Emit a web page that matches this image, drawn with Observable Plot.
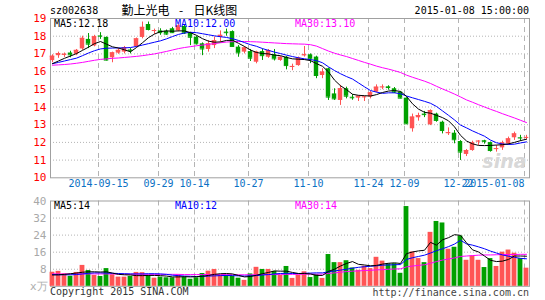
<!DOCTYPE html>
<html><head><meta charset="utf-8">
<script src="https://cdn.jsdelivr.net/npm/d3@7"></script>
<script src="https://cdn.jsdelivr.net/npm/@observablehq/plot@0.6"></script>
<style>
html,body{margin:0;padding:0;background:#fff;}
#wrap{position:relative;width:545px;height:300px;overflow:hidden;background:#fff;}
.t{position:absolute;white-space:pre;font-family:"DejaVu Sans Mono",monospace;font-size:10px;line-height:10px;}
#wrap svg{position:absolute;left:0;}
</style></head><body><div id="wrap"></div>
<script>
// ---------- data ----------
const stockCode = "sz002638";
const stockName = "勤上光电";
const chartKind = "日K线图";
const stamp = "2015-01-08 15:00:00";
const maLabels = ["MA5:12.18", "MA10:12.00", "MA30:13.10"];
const volMaLabels = ["MA5:14", "MA10:12", "MA30:14"];
const volUnit = "x万";
const copyright = "Copyright 2015 SINA.COM";
const siteUrl = "http://finance.sina.com.cn";

const dateIdx = [8, 18, 24, 33, 43, 53, 59, 68, 79];
const dateLabels = ["2014-09-15","09-29","10-14","10-27","11-10","11-24","12-09","12-22","2015-01-08"];
const priceTicks = [10,11,12,13,14,15,16,17,18,19];
const volTicks = [8,16,24,32,40];

const open = [16.62,16.9,16.92,17.05,16.98,17.28,17.82,17.45,18.02,17.93,
  16.78,17.04,17.1,17.22,17.4,17.93,18.66,18.3,18.3,18.28,
  18.42,18.3,18.55,18.18,17.94,17.57,17.25,17.47,17.93,18.23,
  18.26,17.38,17.1,17.13,16.53,17.13,16.81,16.95,16.63,16.81,
  16.25,16.34,16.9,16.95,16.82,15.78,16.16,14.74,14.37,15.03,
  14.55,14.5,14.55,14.56,14.84,15.11,15.14,15.03,14.84,14.5,
  12.77,13.39,13.6,12.99,13.6,13.14,12.5,12.52,12.05,11.32,
  11.54,12.05,12.1,11.99,11.62,11.69,11.92,12.26,12.27,12.26];
const high = [16.95,17.1,17.05,17.15,17.25,18.0,18.15,18.05,18.2,17.96,
  17.1,17.3,17.42,17.3,17.9,18.8,18.8,18.4,18.42,18.35,
  18.5,18.65,18.62,18.22,18.0,17.62,17.75,17.95,18.3,18.4,
  18.3,17.47,17.4,17.25,17.15,17.28,17.25,17.25,16.85,16.85,
  16.42,16.82,17.42,17.0,16.87,16.16,16.2,15.03,15.22,15.12,
  14.7,14.62,14.6,14.88,15.25,15.25,15.2,15.1,14.86,14.52,
  13.6,13.65,13.75,13.84,13.65,13.2,12.82,12.67,12.1,11.6,
  12.07,12.1,12.12,12.02,11.82,12.07,12.3,12.58,12.4,12.4];
const low = [16.5,16.75,16.8,16.78,16.9,17.2,17.3,17.4,17.82,16.6,
  16.5,16.98,17.0,17.0,17.35,17.85,18.3,18.1,18.05,18.05,
  18.15,18.25,18.1,17.47,17.5,16.9,17.1,17.3,17.65,18.0,
  17.4,16.81,17.0,16.57,16.44,16.63,16.75,16.6,16.58,16.1,
  16.05,16.3,16.82,16.45,15.6,15.6,14.37,14.37,14.09,14.46,
  14.38,14.31,14.31,14.46,14.8,14.98,14.95,14.76,14.46,13.02,
  12.58,13.2,13.4,12.95,13.14,12.48,12.39,11.92,10.98,11.2,
  11.5,11.82,11.9,11.45,11.45,11.55,11.83,12.11,12.05,12.14];
const close = [16.87,17.02,16.98,16.95,17.2,17.88,17.55,17.97,18.0,16.65,
  17.06,17.2,17.36,17.18,17.85,18.5,18.38,18.32,18.2,18.12,
  18.2,18.58,18.18,17.94,17.57,17.28,17.57,17.75,18.05,18.2,
  17.42,17.06,17.34,16.76,17.1,16.9,17.19,16.72,16.81,16.34,
  16.29,16.76,16.95,16.72,15.78,15.97,14.56,14.46,15.03,14.61,
  14.52,14.61,14.57,14.8,15.12,15.13,15.1,14.84,14.5,13.05,
  13.43,13.52,13.57,13.8,13.24,12.67,12.55,12.15,11.45,11.54,
  11.97,12.07,12.06,11.54,11.65,11.97,12.2,12.48,12.25,12.28];
const ma5 = [16.45,16.6,16.75,16.88,17.02,17.2,17.38,17.58,17.7,17.55,
  17.4,17.33,17.23,17.12,17.36,17.63,17.92,18.12,18.26,18.3,
  18.28,18.3,18.3,18.2,18.05,17.86,17.72,17.66,17.68,17.76,
  17.77,17.6,17.42,17.22,17.08,17.02,17.0,16.93,16.9,16.8,
  16.72,16.7,16.68,16.62,16.45,16.3,15.98,15.52,15.2,14.98,
  14.72,14.66,14.64,14.62,14.7,14.82,14.9,14.93,14.88,14.6,
  14.18,13.88,13.7,13.65,13.53,13.4,13.22,12.88,12.4,12.08,
  11.92,11.83,11.82,11.83,11.85,11.87,11.92,12.0,12.1,12.18];
const ma10 = [16.45,16.52,16.6,16.68,16.76,16.9,17.05,17.18,17.28,17.32,
  17.33,17.34,17.34,17.36,17.42,17.5,17.58,17.66,17.74,17.85,
  17.98,18.1,18.18,18.22,18.2,18.14,18.08,18.02,17.97,17.93,
  17.86,17.76,17.64,17.52,17.43,17.3,17.2,17.1,17.02,16.93,
  16.85,16.78,16.72,16.68,16.62,16.5,16.27,16.06,15.88,15.72,
  15.58,15.36,15.14,14.93,14.84,14.77,14.8,14.8,14.75,14.62,
  14.52,14.42,14.32,14.21,14.03,13.78,13.53,13.27,12.98,12.82,
  12.65,12.5,12.35,12.13,11.98,11.91,11.88,11.9,11.97,12.03];
const ma30 = [16.36,16.38,16.4,16.43,16.47,16.52,16.58,16.64,16.69,16.72,
  16.75,16.77,16.8,16.83,16.86,16.9,16.95,17.0,17.07,17.14,
  17.22,17.3,17.36,17.41,17.46,17.5,17.54,17.58,17.63,17.67,
  17.69,17.7,17.7,17.69,17.68,17.66,17.64,17.62,17.6,17.58,
  17.57,17.56,17.55,17.52,17.44,17.3,17.16,17.04,16.94,16.85,
  16.74,16.63,16.52,16.42,16.31,16.22,16.14,16.05,15.95,15.8,
  15.68,15.57,15.46,15.33,15.17,15.02,14.88,14.73,14.57,14.4,
  14.27,14.13,14.0,13.87,13.75,13.62,13.5,13.38,13.25,13.12];
const volume = [6.6,7.0,5.8,4.7,6.5,9.8,7.4,5.1,4.6,8.3,
  5.4,4.3,4.3,4.6,6.5,6.4,5.0,3.8,4.3,4.0,
  4.0,5.4,4.3,3.3,4.0,6.0,7.1,7.9,5.1,5.1,
  4.7,3.8,2.8,5.8,8.9,7.9,7.9,7.0,5.1,9.3,
  3.7,5.2,6.8,4.1,5.5,3.7,14.9,11.1,11.1,12.0,
  8.6,7.5,9.4,8.3,13.6,11.8,10.5,10.6,6.1,37.4,
  16.1,13.0,11.1,25.3,30.4,29.7,17.4,18.3,23.6,12.2,
  14.2,12.2,8.8,13.0,9.3,16.0,17.0,15.5,13.0,8.5];
const volMa5 = [5.3,5.4,5.6,5.9,6.2,6.6,6.8,6.8,6.7,6.8,
  6.2,5.6,5.4,5.3,5.0,5.0,5.1,5.1,5.0,4.8,
  4.4,4.4,4.5,4.4,4.5,4.7,5.1,5.6,5.9,6.0,
  5.8,5.1,4.4,4.6,5.2,5.9,6.5,7.2,7.1,7.1,
  6.5,6.0,6.0,5.8,5.1,5.1,7.0,8.0,9.5,10.7,
  11.6,10.3,10.0,9.6,9.8,10.4,10.8,11.0,10.7,15.3,
  16.1,16.6,16.9,20.6,19.3,21.8,22.8,24.2,23.9,20.4,
  17.1,16.1,14.2,12.2,11.6,11.8,12.6,14.2,14.2,14.1];
const volMa10 = [5.5,5.4,5.4,5.4,5.5,5.8,6.1,6.3,6.3,6.2,
  6.1,6.0,5.9,5.8,5.8,5.8,5.9,5.9,5.8,5.6,
  5.2,5.0,4.8,4.7,4.6,4.7,4.8,4.9,5.0,5.1,
  5.0,4.9,4.8,4.9,5.0,5.3,5.5,5.8,6.0,6.1,
  6.0,6.0,6.1,6.2,6.3,6.3,6.8,7.2,7.6,8.0,
  8.5,8.9,9.2,9.4,9.6,9.9,10.0,10.1,10.2,12.6,
  13.4,14.0,14.6,15.6,16.7,17.6,18.6,19.8,21.6,19.9,
  19.3,18.5,17.6,16.5,15.6,14.7,14.1,13.6,13.1,12.9];
const volMa30 = [5.8,5.8,5.8,5.8,5.8,5.8,5.8,5.8,5.8,5.8,
  5.8,5.7,5.7,5.7,5.7,5.7,5.6,5.6,5.6,5.6,
  5.6,5.6,5.5,5.5,5.5,5.5,5.5,5.5,5.5,5.5,
  5.4,5.4,5.4,5.4,5.4,5.5,5.5,5.5,5.6,5.6,
  5.6,5.6,5.7,5.7,5.7,5.7,6.0,6.3,6.6,6.9,
  7.1,7.2,7.4,7.5,7.7,7.8,8.0,8.1,8.2,9.1,
  9.5,9.8,10.1,10.8,11.6,12.3,12.8,13.3,14.0,14.2,
  14.4,14.6,14.7,14.7,14.8,14.9,14.9,14.9,15.0,15.0];

// ---------- build ----------
const RED = "#ff5454", GREEN = "#00a000", GRID = "#b4b4b4", FRAME = "#a0a0a0";
const candles = close.map((c, i) => ({i, o: open[i], h: high[i], l: low[i], c, v: volume[i], up: c >= open[i]}));
const ups = candles.filter(d => d.up), downs = candles.filter(d => !d.up);
const xDom = [-1/3, 79.5];
const line = (arr, color) => Plot.line(arr, {x: (d, i) => i, y: d => d, stroke: color, strokeWidth: 1});
const W = 0.37;

const mainChart = Plot.plot({
  width: 545, height: 195,
  marginLeft: 50, marginRight: 16, marginTop: 18, marginBottom: 17.7,
  x: {domain: xDom, axis: null},
  y: {domain: [10, 19], axis: null},
  style: {fontFamily: "DejaVu Sans Mono", fontSize: "10px", background: "transparent"},
  marks: [
    Plot.ruleY(priceTicks.slice(1, -1), {stroke: GRID, strokeDasharray: "1,2"}),
    Plot.ruleX(dateIdx, {x: d => d - 1/3, stroke: GRID, strokeDasharray: "5,4"}),
    Plot.text(["sina"], {frameAnchor: "bottom-right", dx: -3, dy: -10, textAnchor: "end",
      fontSize: 19, fontStyle: "italic", fontWeight: "bold", fill: "#d8d8d8", fontFamily: "DejaVu Sans"}),
    Plot.frame({stroke: FRAME}),
    Plot.text(priceTicks, {y: d => d, text: d => String(d), frameAnchor: "left", dx: -4,
      textAnchor: "end", fill: "#ff0000", fontSize: 11}),
    Plot.text(dateLabels.slice(0, -1), {x: (d, i) => dateIdx[i] - 1/3, frameAnchor: "bottom", dy: 9.6,
      fill: "#0a70c4", text: d => d}),
    Plot.text(dateLabels.slice(-1), {x: () => dateIdx[dateIdx.length - 1] - 1/3, frameAnchor: "bottom", dy: 9.6,
      textAnchor: "end", fill: "#0a70c4", text: d => d}),
    Plot.ruleX(ups, {x: "i", y1: "l", y2: "h", stroke: RED}),
    Plot.ruleX(downs, {x: "i", y1: "l", y2: "h", stroke: GREEN}),
    Plot.rect(ups, {x1: d => d.i - W, x2: d => d.i + W, y1: "o", y2: "c", fill: RED}),
    Plot.rect(downs, {x1: d => d.i - W, x2: d => d.i + W, y1: "o", y2: "c", fill: GREEN}),
    Plot.ruleY(ups, {x1: d => d.i - W, x2: d => d.i + W, y: "c", stroke: RED}),
    Plot.ruleY(downs, {x1: d => d.i - W, x2: d => d.i + W, y: "c", stroke: GREEN}),
    line(ma30, "#ff00ff"),
    line(ma10, "#0000ff"),
    line(ma5, "#000000")
  ]
});

const volChart = Plot.plot({
  width: 545, height: 105,
  marginLeft: 50, marginRight: 16, marginTop: 5.5, marginBottom: 14.2,
  x: {domain: xDom, axis: null},
  y: {domain: [0, 40], axis: null},
  style: {fontFamily: "DejaVu Sans Mono", fontSize: "10px", background: "transparent"},
  marks: [
    Plot.ruleY(volTicks.slice(0, -1), {stroke: GRID, strokeDasharray: "1,2"}),
    Plot.ruleX(dateIdx, {x: d => d - 1/3, stroke: GRID, strokeDasharray: "5,4"}),
    Plot.frame({stroke: FRAME}),
    Plot.text(volTicks, {y: d => d, text: d => String(d), frameAnchor: "left", dx: -4,
      textAnchor: "end", fill: "#a8a8a8", fontSize: 11}),
    Plot.rect(ups, {x1: d => d.i - 0.4, x2: d => d.i + 0.4, y1: () => 0, y2: "v", fill: RED}),
    Plot.rect(downs, {x1: d => d.i - 0.4, x2: d => d.i + 0.4, y1: () => 0, y2: "v", fill: GREEN}),
    line(volMa30, "#ff00ff"),
    line(volMa10, "#0000ff"),
    line(volMa5, "#000000")
  ]
});

const wrap = document.getElementById("wrap");
mainChart.style.top = "0px";
volChart.style.top = "195px";
wrap.appendChild(mainChart);
wrap.appendChild(volChart);

function addText(txt, opts) {
  const d = document.createElement("div");
  d.className = "t";
  d.textContent = txt;
  Object.assign(d.style, opts);
  wrap.appendChild(d);
  return d;
}
addText(stockCode, {left: "50px", top: "6px"});
addText(stockName, {left: "121.5px", top: "4px", fontFamily: '"Noto Sans CJK SC"', fontSize: "12px", lineHeight: "12px"});
addText("-", {left: "179px", top: "4px", fontFamily: '"Noto Sans CJK SC"', fontSize: "12px", lineHeight: "12px"});
addText(chartKind, {left: "193.5px", top: "4px", fontFamily: '"Noto Sans CJK SC"', fontSize: "12px", lineHeight: "12px"});
addText(stamp, {right: "16px", top: "6px"});
addText(maLabels[0], {left: "54px", top: "18.7px", color: "#000"});
addText(maLabels[1], {left: "175px", top: "18.7px", color: "#0000ff"});
addText(maLabels[2], {left: "295px", top: "18.7px", color: "#ff00ff"});
addText(volMaLabels[0], {left: "54px", top: "201.2px", color: "#000"});
addText(volMaLabels[1], {left: "175px", top: "201.2px", color: "#0000ff"});
addText(volMaLabels[2], {left: "295px", top: "201.2px", color: "#ff00ff"});
addText(volUnit, {left: "30px", top: "281px", color: "#b0b0b0", fontFamily: '"DejaVu Sans"', fontSize: "11px", lineHeight: "11px"});
addText(copyright, {left: "50px", top: "287px", color: "#333"});
addText(siteUrl, {right: "16px", top: "288px", color: "#444"});
</script></body></html>
